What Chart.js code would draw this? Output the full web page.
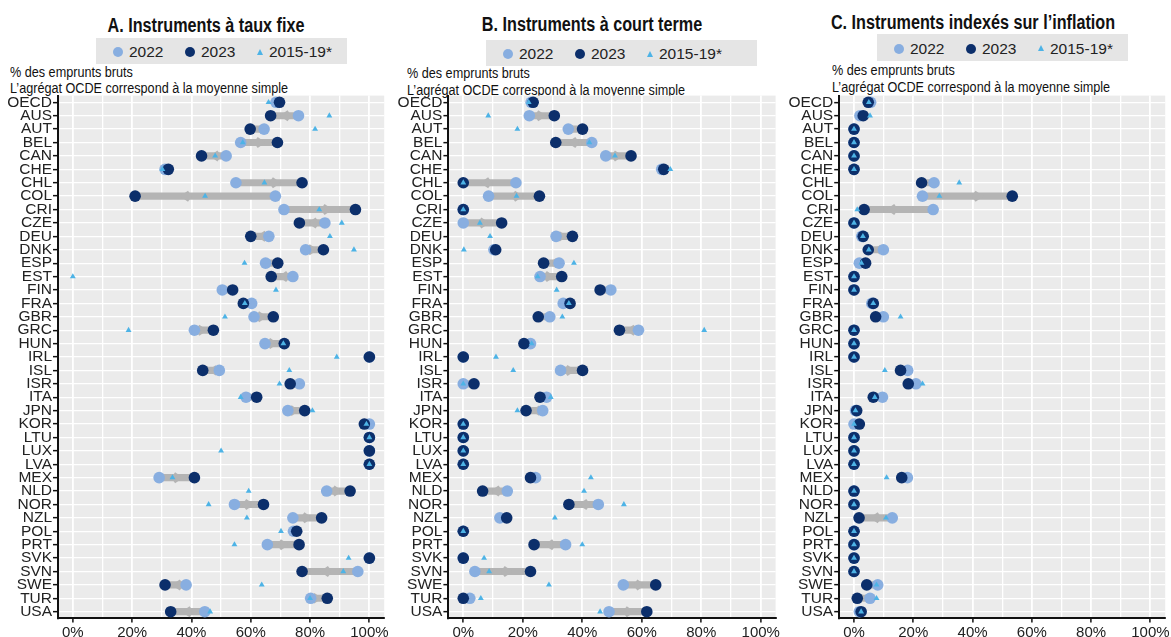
<!DOCTYPE html>
<html lang="fr">
<head>
<meta charset="utf-8">
<title>Emprunts bruts par type d’instrument</title>
<script src="https://cdn.jsdelivr.net/npm/chart.js@4.4.1/dist/chart.umd.min.js"></script>
<style>
  html, body { margin: 0; padding: 0; background: #fff; }
  body { position: relative; width: 1171px; height: 637px; overflow: hidden;
         font-family: 'Liberation Sans', Arial, sans-serif; color: #111; }
  .panel { position: absolute; top: 0; height: 637px; }
  /* condensed look: regular sans squeezed horizontally */
  .title { position: absolute; white-space: nowrap; transform-origin: 50% 50%;
           transform: translateX(-50%) scaleX(0.83);
           font-weight: bold; font-size: 19.5px; line-height: 19.5px; color: #111; }
  .note { position: absolute; white-space: nowrap; transform-origin: 0 50%;
          transform: scaleX(0.815);
          font-size: 15.5px; line-height: 15.5px; color: #111; }
  .legend { position: absolute; background: #e5e5e5; }
  .legend span { position: absolute; }
  .legend .dot { width: 10px; height: 10px; border-radius: 50%; }
  .legend .tri { width: 0; height: 0; border-left: 3.5px solid transparent;
                 border-right: 3.5px solid transparent; border-bottom: 6px solid; }
  .legend .txt { font-size: 15.5px; line-height: 15.5px; color: #222; white-space: nowrap; }
</style>
</head>
<body>
<script>
// Country codes, top to bottom
const countries = ['OECD','AUS','AUT','BEL','CAN','CHE','CHL','COL','CRI','CZE','DEU','DNK','ESP',
  'EST','FIN','FRA','GBR','GRC','HUN','IRL','ISL','ISR','ITA','JPN','KOR','LTU','LUX','LVA',
  'MEX','NLD','NOR','NZL','POL','PRT','SVK','SVN','SWE','TUR','USA'];

// A. Fixed-rate instruments, % of gross borrowing
const fixed2022 = [68.5, 76.1, 64.5, 56.6, 51.7, 31.1, 55.0, 68.3, 71.2, 85.0, 66.1, 78.5, 65.0,
  74.2, 50.4, 60.3, 61.1, 41.0, 64.8, 100, 49.4, 76.4, 58.4, 72.5, 100, 100, 100, 100,
  29.1, 85.6, 54.5, 74.2, 74.4, 65.6, 100, 96.1, 38.2, 80.2, 44.5];
const fixed2023 = [69.7, 66.7, 59.8, 69.0, 43.4, 32.2, 77.3, 21.0, 95.3, 76.4, 60.0, 84.5, 69.1,
  66.9, 53.9, 57.5, 67.6, 47.4, 71.3, 100, 43.8, 73.3, 62.0, 78.2, 98.3, 100, 100, 100,
  41.0, 93.5, 64.3, 83.9, 75.5, 76.3, 100, 77.3, 31.1, 85.8, 33.0];
const fixed1519 = [66.0, 86.5, 81.7, 57.3, 48.0, 30.2, 64.6, 44.6, 83.1, 90.7, 86.7, 94.8, 57.9,
  0.0, 68.5, 58.0, 51.3, 18.8, 71.0, 89.0, 73.0, 69.7, 56.6, 80.8, 99.0, 100, 50.0, 100,
  33.6, 59.3, 45.8, 58.7, 70.2, 54.5, 93.0, 91.2, 63.7, 80.0, 46.3];

// B. Short-term instruments
const short2022 = [22.8, 22.2, 35.3, 43.2, 47.9, 66.7, 17.7, 8.5, 0, 0, 31.2, 10.3, 32.2,
  25.8, 49.6, 33.6, 29.1, 58.9, 22.6, 0, 32.7, 0, 28.0, 26.7, 0, 0, 0, 0,
  24.3, 14.8, 45.4, 12.3, 0, 34.4, 0, 3.9, 53.8, 2.2, 49.0];
const short2023 = [23.5, 30.6, 40.1, 31.1, 56.4, 67.4, 0, 25.6, 0, 12.9, 36.7, 10.9, 27.0,
  33.1, 46.0, 35.9, 25.2, 52.5, 20.4, 0, 40.1, 3.6, 25.8, 21.1, 0, 0, 0, 0,
  22.6, 6.5, 35.5, 14.6, 0, 23.8, 0, 22.6, 64.7, 0, 61.7];
const short1519 = [22.0, 8.4, 18.2, 42.4, 51.0, 69.6, 0, 17.9, 0, 5.6, 9.0, 0.2, 37.2,
  25.0, 31.4, 35.5, 33.3, 81.0, 23.0, 11.0, 16.8, 0, 29.4, 18.2, 0, 0, 0, 0,
  42.9, 40.6, 54.0, 30.8, 0, 40.0, 7.0, 8.7, 28.8, 5.9, 46.0];

// C. Inflation-indexed instruments
const infl2022 = [5.6, 2.0, 0, 0, 0, 0, 27.0, 23.1, 26.7, 0, 2.6, 9.9, 1.8,
  0, 0, 6.0, 9.9, 0, 0, 0, 18.1, 20.9, 9.6, 0.5, 0, 0, 0, 0,
  18.0, 0, 0, 12.9, 0, 0, 0, 0, 8.0, 5.4, 1.8];
const infl2023 = [4.8, 3.1, 0, 0, 0, 0, 22.8, 53.4, 3.4, 0, 3.1, 4.8, 3.9,
  0, 0, 6.5, 7.3, 0, 0, 0, 15.7, 18.3, 6.5, 0.9, 1.8, 0, 0, 0,
  16.1, 0, 0, 1.7, 0, 0, 0, 0, 4.3, 1.1, 2.4];
const infl1519 = [5.0, 5.4, 0, 0, 0, 0, 35.5, 28.8, 1.1, 0, 3.0, 5.0, 2.5,
  0, 0, 6.5, 15.7, 0, 0, 0, 10.4, 23.1, 7.0, 0.5, 0, 0, 0, 0,
  11.0, 0, 0, 10.8, 0, 0, 0, 0, 7.6, 7.6, 2.4];

const seriesLabels = ['2022', '2023', '2015-19*'];
const xTickValues = [0, 10, 20, 30, 40, 50, 60, 70, 80, 90, 100];
const xLabelStep = 20;
const panelTitles = ['A. Instruments à taux fixe', 'B. Instruments à court terme',
  'C. Instruments indexés sur l’inflation'];
const noteLines = ['% des emprunts bruts', 'L’agrégat OCDE correspond à la moyenne simple'];

const COLORS = {
  y2022: '#88aee0', y2023: '#0c2f6b', avg: '#4db3e6', change: '#b4b4b4',
  plotBg: '#ebebeb', grid: '#ffffff', axis: '#111111', text: '#222222'
};
const FONT = "'Liberation Sans', Arial, sans-serif";

// Page layout of the three panels (pixels)
const PLOT_TOP = 95.6, PLOT_BOTTOM = 618.4, PAGE_H = 637;
const panels = [
  { title: panelTitles[0], from: fixed2022, to: fixed2023, avg: fixed1519,
    box: { left: 0, width: 390 }, plot: { left: 58, right: 384.2 },
    titleAt: { cx: 206, top: 16 }, legendAt: { left: 96, top: 38, width: 251, height: 26 },
    noteAt: { left: 10, top: [64.2, 80.4] } },
  { title: panelTitles[1], from: short2022, to: short2023, avg: short1519,
    box: { left: 395, width: 390 }, plot: { left: 448.4, right: 775.6 },
    titleAt: { cx: 592, top: 15 }, legendAt: { left: 486, top: 40, width: 271, height: 26 },
    noteAt: { left: 407, top: [64.9, 81.9] } },
  { title: panelTitles[2], from: infl2022, to: infl2023, avg: infl1519,
    box: { left: 785, width: 386 }, plot: { left: 839.2, right: 1165.5 },
    titleAt: { cx: 973, top: 13 }, legendAt: { left: 877, top: 34, width: 251, height: 27 },
    noteAt: { left: 832, top: [62, 78.5] } }
];

// Grey plot background under the grid
const plotBackground = {
  id: 'plotBackground',
  beforeDraw(chart, args, opts) {
    const { ctx, chartArea: a } = chart;
    ctx.save();
    ctx.fillStyle = opts.color;
    ctx.fillRect(a.left, a.top, a.right - a.left, a.bottom - a.top);
    ctx.restore();
  }
};

// Arrowhead along each 2022 -> 2023 segment (tip about two thirds of the way),
// drawn right after the segment bars so the markers stay on top.
// The head never reaches back past the 2022 marker on short segments.
const changeArrows = {
  id: 'changeArrows',
  afterDatasetDraw(chart, args, opts) {
    if (chart.data.datasets[args.index].type !== 'bar') return;
    const { ctx, scales: { x, y } } = chart;
    ctx.save();
    ctx.fillStyle = opts.color;
    opts.from.forEach((a, i) => {
      const b = opts.to[i];
      if (a === b) return;
      const xa = x.getPixelForValue(a), xb = x.getPixelForValue(b);
      const dir = Math.sign(xb - xa);
      const tip = xa + opts.at * (xb - xa);
      const len = Math.min(opts.length, Math.abs(tip - xa));
      const k = len / opts.length;
      const yc = y.getPixelForValue(i);
      ctx.beginPath();
      ctx.moveTo(tip, yc);
      ctx.lineTo(tip - dir * 8 * k, yc - 5.5 * k);
      ctx.lineTo(tip - dir * len, yc);
      ctx.lineTo(tip - dir * 8 * k, yc + 5.5 * k);
      ctx.closePath();
      ctx.fill();
    });
    ctx.restore();
  }
};

function el(tag, cls, parent, style, text) {
  const e = document.createElement(tag);
  if (cls) e.className = cls;
  Object.assign(e.style, style || {});
  if (text !== undefined) e.textContent = text;
  parent.appendChild(e);
  return e;
}

function buildLegend(p) {
  const L = p.legendAt;
  const box = el('div', 'legend', document.body,
    { left: L.left + 'px', top: L.top + 'px', width: L.width + 'px', height: L.height + 'px' });
  const cy = L.height / 2 + 1;
  const items = [
    { kind: 'dot', color: COLORS.y2022, at: 22, textAt: 33, label: seriesLabels[0] },
    { kind: 'dot', color: COLORS.y2023, at: 94, textAt: 105, label: seriesLabels[1] },
    { kind: 'tri', color: COLORS.avg, at: 164, textAt: 173, label: seriesLabels[2] }
  ];
  items.forEach(it => {
    if (it.kind === 'dot') {
      el('span', 'dot', box, { left: (it.at - 5) + 'px', top: (cy - 5) + 'px', background: it.color });
    } else {
      el('span', 'tri', box, { left: (it.at - 3.5) + 'px', top: (cy - 3.5) + 'px', borderBottomColor: it.color });
    }
    el('span', 'txt', box, { left: it.textAt + 'px', top: (cy + 5.5 - 13.1) + 'px' }, it.label);
  });
}

function buildPanel(p) {
  // Texts above the plot
  el('div', 'title', document.body, { left: p.titleAt.cx + 'px', top: p.titleAt.top + 'px' }, p.title);
  buildLegend(p);
  noteLines.forEach((t, k) => {
    el('div', 'note', document.body, { left: p.noteAt.left + 'px', top: p.noteAt.top[k] + 'px' }, t);
  });

  const wrap = el('div', 'panel', document.body, { left: p.box.left + 'px', width: p.box.width + 'px' });
  const canvas = el('canvas', null, wrap);

  const yWidth = p.plot.left - p.box.left;
  const padRight = p.box.left + p.box.width - p.plot.right;
  const pointSet = (label, data, color, order, style, radius) => ({
    type: 'line', label, data, indexAxis: 'y', showLine: false, order,
    pointStyle: style, pointRadius: radius, pointHoverRadius: radius,
    pointBackgroundColor: color, pointBorderWidth: 0, pointBorderColor: color, clip: false
  });

  new Chart(canvas, {
    type: 'bar',
    data: {
      labels: countries,
      datasets: [
        pointSet(seriesLabels[2], p.avg, COLORS.avg, 0, 'triangle', 3.4),
        pointSet(seriesLabels[1], p.to, COLORS.y2023, 1, 'circle', 5.8),
        pointSet(seriesLabels[0], p.from, COLORS.y2022, 2, 'circle', 5.8),
        {
          type: 'bar', label: '2022 → 2023', indexAxis: 'y', order: 3,
          data: countries.map((c, i) => [Math.min(p.from[i], p.to[i]), Math.max(p.from[i], p.to[i])]),
          backgroundColor: COLORS.change, borderWidth: 0, borderSkipped: false, barThickness: 6.5
        }
      ]
    },
    options: {
      indexAxis: 'y',
      responsive: true,
      maintainAspectRatio: false,
      animation: false,
      events: [],
      layout: { padding: { left: 0, right: padRight, top: PLOT_TOP, bottom: 0 } },
      plugins: {
        legend: { display: false },
        tooltip: { enabled: false },
        plotBackground: { color: COLORS.plotBg },
        changeArrows: { from: p.from, to: p.to, at: 0.68, length: 12, color: COLORS.change }
      },
      scales: {
        x: {
          type: 'linear', position: 'bottom', min: -5, max: 105,
          afterBuildTicks: s => { s.ticks = xTickValues.map(v => ({ value: v })); },
          afterFit: s => { s.height = PAGE_H - PLOT_BOTTOM; s.paddingLeft = 0; s.paddingRight = 0; },
          grid: {
            color: COLORS.grid,
            lineWidth: c => (c.tick && c.tick.value % xLabelStep === 0 ? 1.8 : 1.3),
            tickColor: c => (c.tick && c.tick.value % xLabelStep === 0 ? COLORS.axis : 'rgba(0,0,0,0)'),
            tickLength: 4, tickWidth: 1.5
          },
          border: { color: COLORS.axis, width: 2 },
          ticks: {
            autoSkip: false, maxRotation: 0, padding: 1, color: COLORS.text,
            font: { family: FONT, size: 15 },
            callback: v => (v % xLabelStep === 0 ? v + '%' : '')
          }
        },
        y: {
          type: 'category', labels: countries, offset: true,
          afterFit: s => { s.width = yWidth; s.paddingTop = 0; s.paddingBottom = 0; },
          grid: { color: COLORS.grid, lineWidth: 1.3, offset: false, tickColor: COLORS.axis, tickLength: 5, tickWidth: 1.5 },
          border: { color: COLORS.axis, width: 2 },
          ticks: { autoSkip: false, padding: 1, color: COLORS.text, font: { family: FONT, size: 15.5 } }
        }
      }
    },
    plugins: [plotBackground, changeArrows]
  });
}

panels.forEach(buildPanel);
</script>
</body>
</html>
